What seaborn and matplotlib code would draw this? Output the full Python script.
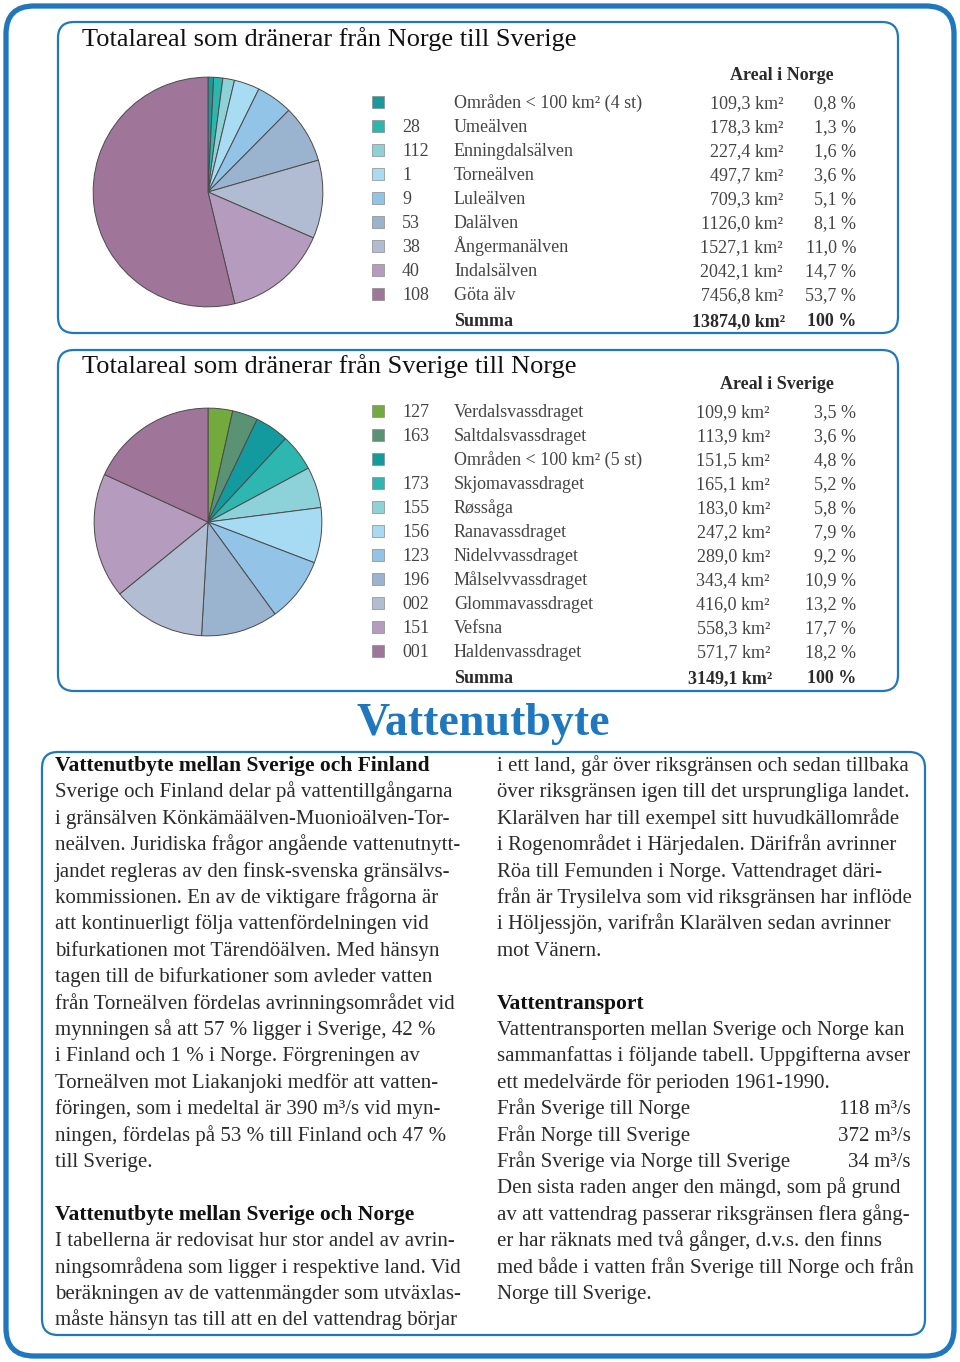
import matplotlib
matplotlib.use("Agg")
import matplotlib.pyplot as plt
import seaborn as sns
from matplotlib.patches import FancyBboxPatch

sns.set_theme(style="white")
plt.rcParams["font.family"] = ["Liberation Serif", "DejaVu Serif"]

BLUE = "#1f78bd"
TXT = "#2b2b2b"

# Norge -> Sverige
no_codes = ["", "28", "112", "1", "9", "53", "38", "40", "108"]
no_names = ["Områden < 100 km² (4 st)", "Umeälven", "Enningdalsälven", "Torneälven",
            "Luleälven", "Dalälven", "Ångermanälven", "Indalsälven", "Göta älv"]
no_area = [109.3, 178.3, 227.4, 497.7, 709.3, 1126.0, 1527.1, 2042.1, 7456.8]
no_pct = ["0,8", "1,3", "1,6", "3,6", "5,1", "8,1", "11,0", "14,7", "53,7"]
no_colors = ["#179a9c", "#2cb6ae", "#8ed2d8", "#a8dcf3", "#92c4e8", "#9ab4cf",
             "#b1bcd2", "#b59bbd", "#a0759a"]
no_sum = "13874,0"

# Sverige -> Norge
se_codes = ["127", "163", "", "173", "155", "156", "123", "196", "002", "151", "001"]
se_names = ["Verdalsvassdraget", "Saltdalsvassdraget", "Områden < 100 km² (5 st)",
            "Skjomavassdraget", "Røssåga", "Ranavassdraget", "Nidelvvassdraget",
            "Målselvvassdraget", "Glommavassdraget", "Vefsna", "Haldenvassdraget"]
se_area = [109.9, 113.9, 151.5, 165.1, 183.0, 247.2, 289.0, 343.4, 416.0, 558.3, 571.7]
se_pct = ["3,5", "3,6", "4,8", "5,2", "5,8", "7,9", "9,2", "10,9", "13,2", "17,7", "18,2"]
se_colors = ["#73aa3d", "#5a9274", "#139a9e", "#2db7b0", "#8dd1d9", "#a7dbf3",
             "#93c4e8", "#9ab4cf", "#b1bdd3", "#b59bbd", "#a0759a"]
se_sum = "3149,1"

transport_labels = ["Från Sverige till Norge", "Från Norge till Sverige",
                    "Från Sverige via Norge till Sverige"]
transport_values = ["118 m³/s", "372 m³/s", "34 m³/s"]

left_text = [
    ("Vattenutbyte mellan Sverige och Finland", True),
    ("Sverige och Finland delar på vattentillgångarna", False),
    ("i gränsälven Könkämäälven-Muonioälven-Tor-", False),
    ("neälven. Juridiska frågor angående vattenutnytt-", False),
    ("jandet regleras av den finsk-svenska gränsälvs-", False),
    ("kommissionen. En av de viktigare frågorna är", False),
    ("att kontinuerligt följa vattenfördelningen vid", False),
    ("bifurkationen mot Tärendöälven. Med hänsyn", False),
    ("tagen till de bifurkationer som avleder vatten", False),
    ("från Torneälven fördelas avrinningsområdet vid", False),
    ("mynningen så att 57 % ligger i Sverige, 42 %", False),
    ("i Finland och 1 % i Norge. Förgreningen av", False),
    ("Torneälven mot Liakanjoki medför att vatten-", False),
    ("föringen, som i medeltal är 390 m³/s vid myn-", False),
    ("ningen, fördelas på 53 % till Finland och 47 %", False),
    ("till Sverige.", False),
    ("", False),
    ("Vattenutbyte mellan Sverige och Norge", True),
    ("I tabellerna är redovisat hur stor andel av avrin-", False),
    ("ningsområdena som ligger i respektive land. Vid", False),
    ("beräkningen av de vattenmängder som utväxlas-", False),
    ("måste hänsyn tas till att en del vattendrag börjar", False),
]
right_top = [
    "i ett land, går över riksgränsen och sedan tillbaka",
    "över riksgränsen igen till det ursprungliga landet.",
    "Klarälven har till exempel sitt huvudkällområde",
    "i Rogenområdet i Härjedalen. Därifrån avrinner",
    "Röa till Femunden i Norge. Vattendraget däri-",
    "från är Trysilelva som vid riksgränsen har inflöde",
    "i Höljessjön, varifrån Klarälven sedan avrinner",
    "mot Vänern.",
]
right_mid = [
    "Vattentransporten mellan Sverige och Norge kan",
    "sammanfattas i följande tabell. Uppgifterna avser",
    "ett medelvärde för perioden 1961-1990.",
]
right_bottom = [
    "Den sista raden anger den mängd, som på grund",
    "av att vattendrag passerar riksgränsen flera gång-",
    "er har räknats med två gånger, d.v.s. den finns",
    "med både i vatten från Sverige till Norge och från",
    "Norge till Sverige.",
]

W, H = 960, 1362
fig = plt.figure(figsize=(W / 100, H / 100), dpi=100)
bg = fig.add_axes([0, 0, 1, 1])
bg.set_xlim(0, W)
bg.set_ylim(H, 0)
bg.axis("off")


def box(x0, y0, x1, y1, r, lw):
    p = FancyBboxPatch((x0 + r, y0 + r), x1 - x0 - 2 * r, y1 - y0 - 2 * r,
                       boxstyle=f"round,pad={r}", fc="none", ec=BLUE, lw=lw)
    bg.add_patch(p)


box(6, 6, 954, 1356, 28, 3.8)
box(58, 22, 898, 333, 16, 1.6)
box(58, 350, 898, 691, 16, 1.6)
box(42, 752, 925, 1335, 16, 1.6)


def pie(cx, cy, r, vals, cols):
    ax = fig.add_axes([(cx - r) / W, 1 - (cy + r) / H, 2 * r / W, 2 * r / H])
    ax.pie(vals, colors=cols, startangle=90, counterclock=False,
           wedgeprops=dict(edgecolor="#4a4a4a", linewidth=0.7))
    ax.set_xlim(-1.01, 1.01)
    ax.set_ylim(-1.01, 1.01)
    ax.axis("off")


pie(208, 192, 116, no_area, no_colors)
pie(208, 522, 115, se_area, se_colors)


def txt(x, y, s, fs, **kw):
    # y is the baseline in pixels
    kw.setdefault("color", TXT)
    bg.text(x, y, s, va="baseline", fontsize=fs, **kw)


def table(y0, codes, names, areas, pcts, cols, total, head, head_x, km_x, pct_x):
    fs = 13
    off = 6
    txt(head_x, y0 - 28 + off, head, fs, ha="center", fontweight="bold")
    for i, (c, n, a, p, col) in enumerate(zip(codes, names, areas, pcts, cols)):
        y = y0 + i * 24
        bg.add_patch(plt.Rectangle((372, y - 6), 12, 12, fc=col, ec="#8a8a8a", lw=0.5))
        txt(402, y + off, c, fs, ha="left", color="#444")
        txt(454, y + off, n, fs, ha="left", color="#444")
        txt(km_x, y + off, f"{a:.1f}".replace(".", ",") + " km²", fs,
            ha="right", color="#444")
        txt(pct_x, y + off, p + " %", fs, ha="right", color="#444")
    ys = y0 + len(codes) * 24 + 2 + off
    txt(454, ys, "Summa", fs, ha="left", fontweight="bold")
    txt(km_x + 2, ys, total + " km²", fs, ha="right", fontweight="bold")
    txt(pct_x, ys, "100 %", fs, ha="right", fontweight="bold")


txt(82, 46, "Totalareal som dränerar från Norge till Sverige", 19,
    ha="left", color="#111")
table(102, no_codes, no_names, no_area, no_pct, no_colors, no_sum,
      "Areal i Norge", 782, 783, 856)

txt(82, 373, "Totalareal som dränerar från Sverige till Norge", 19,
    ha="left", color="#111")
table(411, se_codes, se_names, se_area, se_pct, se_colors, se_sum,
      "Areal i Sverige", 777, 770, 856)

txt(483, 735, "Vattenutbyte", 33, ha="center", fontweight="bold", color=BLUE)

LH = 26.4
BFS = 15
HFS = 15.5
B0 = 771
for i, (s, b) in enumerate(left_text):
    txt(55, B0 + i * LH, s, HFS if b else BFS, ha="left",
        fontweight="bold" if b else "normal", color="#111" if b else TXT)

for i, s in enumerate(right_top):
    txt(497, B0 + i * LH, s, BFS, ha="left")
txt(497, B0 + 9 * LH, "Vattentransport", HFS, ha="left", fontweight="bold",
    color="#111")
for i, s in enumerate(right_mid):
    txt(497, B0 + (10 + i) * LH, s, BFS, ha="left")
for i, (lab, val) in enumerate(zip(transport_labels, transport_values)):
    y = B0 + (13 + i) * LH
    txt(497, y, lab, BFS, ha="left")
    txt(911, y, val, BFS, ha="right")
for i, s in enumerate(right_bottom):
    txt(497, B0 + (16 + i) * LH, s, BFS, ha="left")

fig.savefig("out.png", dpi=100)
